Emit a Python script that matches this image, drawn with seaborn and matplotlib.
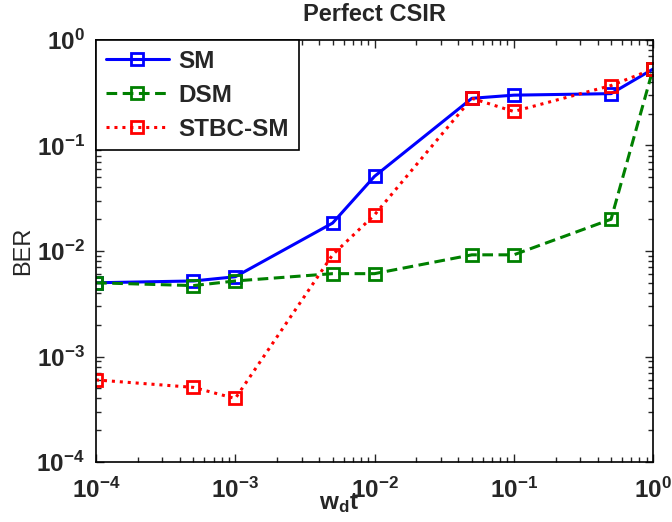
import matplotlib
matplotlib.use("Agg")
import matplotlib.pyplot as plt
import seaborn as sns
import numpy as np
from matplotlib.ticker import LogLocator, FixedLocator, NullFormatter

# ---- data ----
wd_t = [1e-4, 5e-4, 1e-3, 5e-3, 1e-2, 5e-2, 1e-1, 5e-1, 1.0]
ber_sm = [5.0e-3, 5.2e-3, 5.7e-3, 1.84e-2, 5.1e-2, 2.8e-1, 3.0e-1, 3.1e-1, 5.3e-1]
ber_dsm = [5.0e-3, 4.7e-3, 5.2e-3, 6.1e-3, 6.1e-3, 9.2e-3, 9.2e-3, 2.0e-2, 5.3e-1]
ber_stbc = [6.0e-4, 5.1e-4, 4.0e-4, 9.2e-3, 2.2e-2, 2.8e-1, 2.1e-1, 3.7e-1, 5.3e-1]
series_names = ["SM", "DSM", "STBC-SM"]
major_ticks = [1e-4, 1e-3, 1e-2, 1e-1, 1e0]
tick_labels = [r"$10^{-4}$", r"$10^{-3}$", r"$10^{-2}$", r"$10^{-1}$", r"$10^{0}$"]

sns.set_theme(style="ticks")
plt.rcParams.update({
    "font.family": ["Liberation Sans", "DejaVu Sans"],
    "mathtext.fontset": "custom",
    "mathtext.rm": "Liberation Sans:bold",
    "mathtext.it": "Liberation Sans:bold",
    "mathtext.bf": "Liberation Sans:bold",
    "mathtext.default": "rm",
    "xtick.direction": "in",
    "ytick.direction": "in",
    "axes.edgecolor": "black",
    "axes.linewidth": 1.2,
})

fig = plt.figure(figsize=(6.72, 5.22), dpi=100)
ax = fig.add_axes([0.1429, 0.1149, 0.9717 - 0.1429, 0.9234 - 0.1149])

styles = [
    dict(color=(0, 0, 1), linestyle="-"),
    dict(color=(0, 0.5, 0), linestyle=(0, (3.5, 1.8))),
    dict(color=(1, 0, 0), linestyle=(0, (1, 1.6))),
]
for yvals, name, st in zip([ber_sm, ber_dsm, ber_stbc], series_names, styles):
    sns.lineplot(x=wd_t, y=yvals, ax=ax, label=name, color=st["color"],
                 linestyle=st["linestyle"], linewidth=2.2, marker="s",
                 markersize=8.5, markerfacecolor="none",
                 markeredgecolor=st["color"], markeredgewidth=2.0)

ax.set_xscale("log")
ax.set_yscale("log")
ax.set_xlim(1e-4, 1)
ax.set_ylim(1e-4, 1)

ax.xaxis.set_major_locator(FixedLocator(major_ticks))
ax.yaxis.set_major_locator(FixedLocator(major_ticks))
ax.set_xticklabels(tick_labels)
ax.set_yticklabels(tick_labels)
for axis in (ax.xaxis, ax.yaxis):
    axis.set_minor_locator(LogLocator(base=10, subs=np.arange(2, 10), numticks=20))
    axis.set_minor_formatter(NullFormatter())
ax.tick_params(which="major", length=6, width=1, top=True, right=True, labelsize=17.5, pad=8)
ax.tick_params(axis="x", which="major", pad=11)
ax.tick_params(which="minor", length=3.5, width=1, top=True, right=True)

ax.set_ylabel("BER", fontsize=17, labelpad=2)
ax.set_xlabel("")
fig.text(339 / 672, 1 - 509 / 522, r"$w_{d}t$", fontsize=17.5, ha="center", va="baseline")
ax.set_title("Perfect CSIR", fontsize=17, fontweight="bold", pad=14)

leg = ax.legend(loc="upper left", borderaxespad=0, frameon=True, fancybox=False,
                edgecolor="black", handlelength=2.6, handletextpad=0.4,
                labelspacing=0.45, borderpad=0.4, numpoints=1,
                prop={"weight": "bold", "size": 17.5})
leg.get_frame().set_linewidth(1.2)
leg.get_frame().set_alpha(1)

fig.savefig("out.png", dpi=100)
